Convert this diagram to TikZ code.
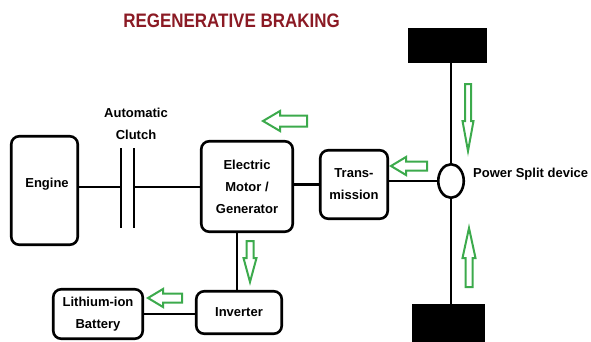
\documentclass[tikz,border=0pt]{standalone}
\usepackage{fontspec}
\setmainfont{Liberation Sans}
\newfontfamily\titlefont[FakeStretch=0.87]{Liberation Sans Bold}
\usetikzlibrary{shapes.geometric}
\definecolor{titlered}{HTML}{8B1A24}
\definecolor{arrgreen}{HTML}{3CAA4C}
% left-pointing hollow arrow: tip x, tip y, length, shaft half, head half, head length
\newcommand\arrLeft[6]{\draw[hollow] (#1,#2) -- ++(#6,-#5) -- ++(0,#5-#4) -- ++(#3-#6,0) -- ++(0,2*#4) -- ++(-#3+#6,0) -- ++(0,#5-#4) -- cycle;}
% down-pointing hollow arrow
\newcommand\arrDown[6]{\draw[hollow] (#1,#2) -- ++(-#5,-#6) -- ++(#5-#4,0) -- ++(0,-#3+#6) -- ++(2*#4,0) -- ++(0,#3-#6) -- ++(#5-#4,0) -- cycle;}
% up-pointing hollow arrow
\newcommand\arrUp[6]{\draw[hollow] (#1,#2) -- ++(-#5,#6) -- ++(#5-#4,0) -- ++(0,#3-#6) -- ++(2*#4,0) -- ++(0,-#3+#6) -- ++(#5-#4,0) -- cycle;}
\begin{document}
\begin{tikzpicture}[x=1pt,y=-1pt,
  box/.style={draw, rounded corners=8pt, line width=2.6pt, align=center,
    font=\bfseries\fontsize{13}{22}\selectfont, inner sep=0pt},
  lbl/.style={font=\bfseries\fontsize{13}{22}\selectfont, align=center, inner sep=0pt},
  wheel/.style={fill=black, draw=none, inner sep=0pt},
  conn/.style={line width=2.6pt},
  hollow/.style={draw=arrgreen, line width=2pt, line join=miter}]
\useasboundingbox (0,0) rectangle (591,341);

% title
\node[inner sep=0pt, text=titlered, font=\titlefont\fontsize{19.5}{20}\selectfont] (title) at (231.5,20.5) {REGENERATIVE BRAKING};

% boxes
\node[box, minimum width=66.5pt, minimum height=108.5pt] (engine) at (44.5,190.5) {};
\node[lbl] (enginetext) at (47,184) {Engine};
\node[box, minimum width=91.5pt, minimum height=90.5pt] (motor) at (247,186.5) {Electric\\Motor /\\Generator};
\node[box, minimum width=67.5pt, minimum height=68.5pt] (trans) at (354,184.5) {Trans-\\mission};
\node[box, minimum width=85.5pt, minimum height=42.5pt] (inverter) at (239,312.5) {Inverter};
\node[box, minimum width=89.5pt, minimum height=49.5pt] (battery) at (98,314) {Lithium-ion\\Battery};
\node[draw, ellipse, line width=2.6pt, minimum width=25.5pt, minimum height=33.5pt, inner sep=0pt] (split) at (451,181) {};

% wheels
\node[wheel, minimum width=79pt, minimum height=35pt] (topwheel) at (447.5,45.5) {};
\node[wheel, minimum width=73pt, minimum height=40pt] (botwheel) at (448.5,324) {};

% labels
\node[lbl] (clutchlbl) at (136,124) {Automatic\\Clutch};
\node[lbl, anchor=west] (splitlbl) at (473,174.5) {Power Split device};

% clutch plates
\coordinate (c1t) at (121,148);
\coordinate (c1b) at (121,228);
\coordinate (c2t) at (134,148);
\coordinate (c2b) at (134,228);
\coordinate (clutchL) at (121,187);
\coordinate (clutchR) at (134,187);
\draw[conn] (c1t) -- (c1b);
\draw[conn] (c2t) -- (c2b);

% connectors
\draw[conn] (engine.east |- clutchL) -- (clutchL);
\draw[conn] (clutchR) -- (motor.west |- clutchR);
\draw[conn] (motor.east |- trans.west) -- (trans.west);
\draw[conn] (trans.east |- split.west) -- (split.west);
\draw[conn] (split.north) -- (split.north |- topwheel.south);
\draw[conn] (split.south) -- (split.south |- botwheel.north);
\coordinate (mvx) at (237,0);
\draw[conn] (motor.south -| mvx) -- (inverter.north -| mvx);
\draw[conn] (battery.east) -- (battery.east -| inverter.west);

% green hollow arrows
\arrLeft{263}{121}{44}{5.5}{10}{17}
\arrLeft{391}{166}{36}{4.5}{9}{15}
\arrLeft{148}{298}{34}{4.5}{9}{15}
\arrDown{468}{151}{67}{3}{5.5}{30}
\arrDown{250}{282}{41}{3.5}{6.5}{24}
\arrUp{469}{228}{59}{3.5}{6.5}{30}
\end{tikzpicture}
\end{document}
